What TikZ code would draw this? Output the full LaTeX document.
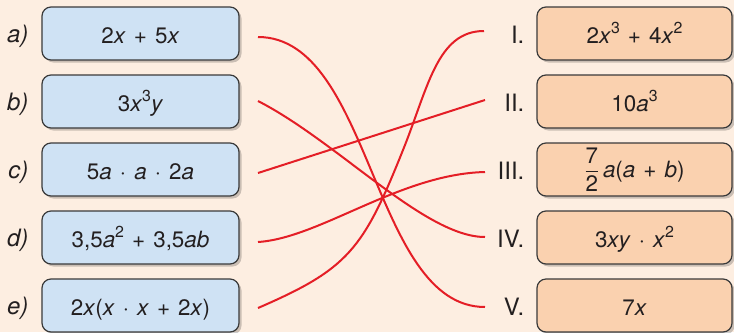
\documentclass[tikz,border=0pt]{standalone}
\usepackage{amsmath}
\usepackage{fontspec}
\setmainfont{TeX Gyre Heros}
\usetikzlibrary{shadows}
\definecolor{bgc}{HTML}{FDEEE1}
\definecolor{bluef}{HTML}{CFE2F4}
\definecolor{peachf}{HTML}{FAD1AF}
\definecolor{edgec}{HTML}{3A3A3A}
\definecolor{linkred}{HTML}{E41E26}
\definecolor{txt}{HTML}{231F20}
\newcommand{\fr}[2]{$\genfrac{}{}{1.2bp}{0}{\mbox{#1}}{\mbox{#2}}$}
\newcommand{\up}[1]{\raisebox{0.46em}{\fontsize{16}{16}\selectfont #1}}
\newcommand{\gap}{\hspace{0.36em}}
\tikzset{
  box/.style={draw=edgec, line width=1.2bp, rounded corners=9bp,
    minimum height=53bp, inner sep=0pt, text height=20bp, text depth=0pt,
    text=txt, font=\fontsize{22.5}{26}\selectfont,
    drop shadow={shadow xshift=2.5bp, shadow yshift=-2.5bp, fill=black, opacity=0.2}},
  lbox/.style={box, fill=bluef, minimum width=197bp},
  rbox/.style={box, fill=peachf, minimum width=195bp},
  lab/.style={text=txt, font=\fontsize{24}{28}\selectfont, inner sep=0pt, anchor=base east},
  link/.style={draw=linkred, line width=2bp}
}
\begin{document}
\begin{tikzpicture}[x=1bp,y=-1bp]
\useasboundingbox (0,0) rectangle (734,332);
\fill[bgc] (0,0) rectangle (734,332);
% left boxes
\node[lbox] (la) at (140.5,33.5) {2\textit{x}\gap+\gap5\textit{x}};
\node[lbox] (lb) at (140.5,101.5) {3\textit{x}\up{3}\textit{y}};
\node[lbox] (lc) at (140.5,169.5) {5\textit{a}\gap·\gap\textit{a}\gap·\gap2\textit{a}};
\node[lbox] (ld) at (140.5,237.5) {3,5\textit{a}\up{2}\gap+\gap3,5\textit{ab}};
\node[lbox] (le) at (140.5,305.5) {2\textit{x}(\textit{x}\gap·\gap\textit{x}\gap+\gap2\textit{x})};
% right boxes
\node[rbox] (ri) at (634.5,33.5) {2\textit{x}\up{3}\gap+\gap4\textit{x}\up{2}};
\node[rbox] (rii) at (634.5,101.5) {10\textit{a}\up{3}};
\node[rbox, text height=15bp] (riii) at (634.5,169.5) {\fr{7}{2}\,\textit{a}(\textit{a}\gap+\gap\textit{b})};
\node[rbox] (riv) at (634.5,237.5) {3\textit{xy}\gap·\gap\textit{x}\up{2}};
\node[rbox] (rv) at (634.5,305.5) {7\textit{x}};
% left labels
\node[lab] (ta) at (28.5,42) {\textit{a)}};
\node[lab] (tb) at (28.5,110) {\textit{b)}};
\node[lab] (tc) at (28.5,178) {\textit{c)}};
\node[lab] (td) at (28.5,246) {\textit{d)}};
\node[lab] (te) at (28.5,314) {\textit{e)}};
% right labels
\node[lab] (n1) at (524.5,43.5) {I.};
\node[lab] (n2) at (524.5,111.5) {II.};
\node[lab] (n3) at (524.5,179.5) {III.};
\node[lab] (n4) at (524.5,247.5) {IV.};
\node[lab] (n5) at (524.5,315.5) {V.};
% line ends
\coordinate (sa) at (258,37);
\coordinate (sb) at (258,101);
\coordinate (sc) at (258,173);
\coordinate (sd) at (258,242);
\coordinate (se) at (258,308);
\coordinate (e1) at (484,31);
\coordinate (e2) at (485,100);
\coordinate (e3) at (485,172);
\coordinate (e4) at (485,237);
\coordinate (e5) at (485,307);
% links
\draw[link] (sa) .. controls (372,37) and (372,307) .. (e5);
\draw[link] (sb) .. controls (338,142) and (425,237) .. (e4);
\draw[link] (sc) -- (e2);
\draw[link] (sd) .. controls (320,238) and (400,174) .. (e3);
\draw[link] (se) .. controls (348,269) and (363,250) .. (403,150) .. controls (428,88) and (437,31) .. (e1);
\end{tikzpicture}
\end{document}
